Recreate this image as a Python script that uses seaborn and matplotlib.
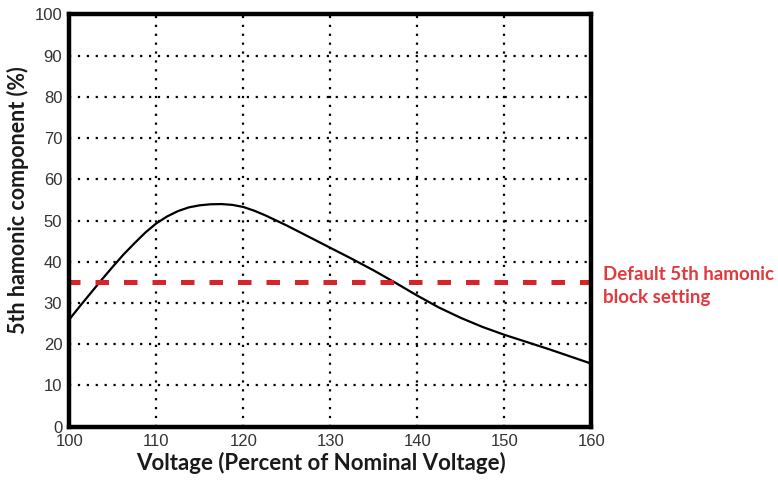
import numpy as np
import pandas as pd
import matplotlib
matplotlib.use("Agg")
import matplotlib.pyplot as plt
import seaborn as sns

# values
voltage = [100, 101.25, 102.5, 103.75, 105, 106.25, 107.5, 108.75, 110, 111.25, 112.5,
           113.75, 115, 116.25, 117.5, 118.75, 120, 121.25, 122.5, 125, 127.5,
           130, 132.5, 135, 137.5, 140, 142.5, 145, 147.5, 150, 152.5, 155, 157.5, 160]
harmonic = [26.0, 29.3, 32.5, 35.7, 38.8, 41.8, 44.5, 47.1, 49.3, 51.0, 52.3,
            53.2, 53.7, 53.95, 54.0, 53.8, 53.3, 52.4, 51.3, 48.8, 46.1,
            43.4, 40.7, 37.9, 34.9, 31.8, 28.9, 26.4, 24.2, 22.3, 20.6, 18.9, 17.1, 15.3]
block_setting = 35
x_ticks = [100, 110, 120, 130, 140, 150, 160]
y_ticks = [0, 10, 20, 30, 40, 50, 60, 70, 80, 90, 100]

df = pd.DataFrame({"voltage": voltage, "harmonic": harmonic})

sns.set_style("white")
plt.rcParams["font.family"] = ["Liberation Sans", "DejaVu Sans"]

fig = plt.figure(figsize=(7.78, 4.8), dpi=100)
ax = fig.add_axes([0.089, 0.111, 0.671, 0.859])

sns.lineplot(data=df, x="voltage", y="harmonic", color="black", linewidth=1.6, ax=ax)
# default block setting line
ax.axhline(block_setting, color="#d9232b", linewidth=3.6, linestyle=(0.5, (2.7, 3.0)))

ax.set_xlim(100, 160)
ax.set_ylim(0, 100)
ax.set_xticks(x_ticks)
ax.set_yticks(y_ticks)
ax.grid(True, color="black", linestyle=(0, (1, 3)), linewidth=1.6)
ax.tick_params(length=0, labelsize=12, labelcolor="#333333")
ax.tick_params(axis="x", pad=5)
ax.tick_params(axis="y", pad=5)

for s in ax.spines.values():
    s.set_linewidth(3.2)
    s.set_color("black")

ax.set_xlabel("Voltage (Percent of Nominal Voltage)", fontsize=16,
              fontweight="bold", family="Lato", color="#1a1a1a")
ax.xaxis.set_label_coords(0.483, -0.062)
ax.set_ylabel("5th hamonic component (%)", fontsize=15.5,
              fontweight="bold", family="Lato", color="#1a1a1a")
ax.yaxis.set_label_coords(-0.078, 0.55)

ax.text(1.022, 39.0, "Default 5th hamonic\nblock setting", transform=ax.get_yaxis_transform(),
        color="#e03a3e", fontsize=13.5, fontweight="bold", family="Lato",
        va="top", ha="left", linespacing=1.4, clip_on=False)

fig.savefig("out.png", dpi=100)
